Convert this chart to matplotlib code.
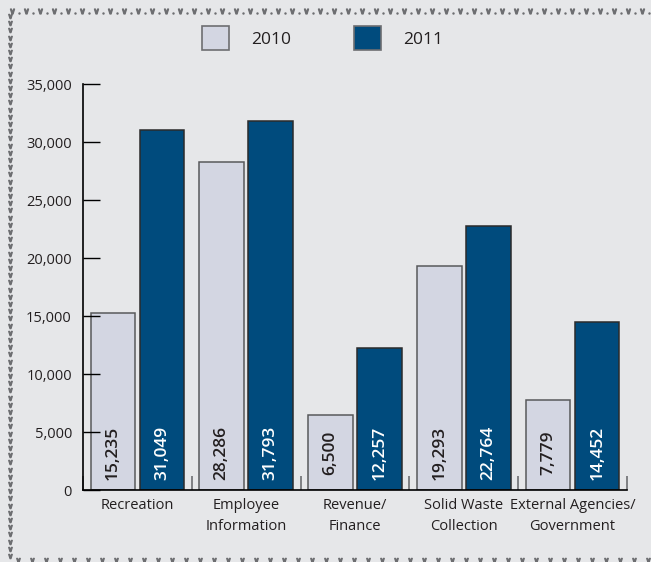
import numpy as np
import matplotlib.pyplot as plt
from matplotlib.lines import Line2D
from matplotlib.patches import Patch
from matplotlib.ticker import FuncFormatter, MultipleLocator

plt.rcParams['font.family'] = ['Open Sans', 'DejaVu Sans']

categories = ["Recreation", "Employee\nInformation", "Revenue/\nFinance",
              "Solid Waste\nCollection", "External Agencies/\nGovernment"]
values_2010 = [15235, 28286, 6500, 19293, 7779]
values_2011 = [31049, 31793, 12257, 22764, 14452]

bg = '#e6e7e9'
c2010 = '#d3d6e2'
c2011 = '#004b7d'
txt = '#231f20'

fig = plt.figure(figsize=(6.51, 5.62), dpi=100, facecolor=bg)
ax = fig.add_axes([83 / 651, 1 - 490 / 562, 544 / 651, 406 / 562])
ax.set_facecolor(bg)

x = np.arange(len(categories))
w = 0.41
off = 0.226
ax.bar(x - off, values_2010, w, color=c2010, edgecolor='#58595b', linewidth=1.1)
ax.bar(x + off, values_2011, w, color=c2011, edgecolor='#2b2b2b', linewidth=1.1)

# value labels written vertically near the foot of each bar
for xi, v in zip(x - off, values_2010):
    ax.text(xi, 3200, f"{v:,}", rotation=90, ha='center', va='center',
            fontsize=12.5, fontweight='semibold', color=txt)
for xi, v in zip(x + off, values_2011):
    ax.text(xi, 3200, f"{v:,}", rotation=90, ha='center', va='center',
            fontsize=12.5, fontweight='semibold', color='white')

ax.set_xlim(-0.5, len(categories) - 0.5)
ax.set_ylim(0, 35000)
ax.yaxis.set_major_locator(MultipleLocator(5000))
ax.yaxis.set_major_formatter(FuncFormatter(lambda v, p: f"{int(v):,}"))
ax.set_xticks(x)
ax.set_xticklabels(categories, fontsize=10.5, color=txt, linespacing=1.5)
ax.set_xticks(np.arange(len(categories) + 1) - 0.5, minor=True)
ax.tick_params(axis='x', which='major', length=0, pad=6)
ax.tick_params(axis='x', which='minor', direction='in', length=10, width=1.2, color='#6d6e71')
ax.tick_params(axis='y', direction='in', length=12, width=1, color='black',
               labelsize=10.5, labelcolor=txt, pad=8)
for s in ['top', 'right']:
    ax.spines[s].set_visible(False)
for s in ['left', 'bottom']:
    ax.spines[s].set_linewidth(1.2)
    ax.spines[s].set_color('black')

handles = [Patch(facecolor=c2010, edgecolor='#6d6e71', linewidth=1.2, label='2010'),
           Patch(facecolor=c2011, edgecolor='#6d6e71', linewidth=1.2, label='2011')]
leg = fig.legend(handles=handles, loc='center left', bbox_to_anchor=(186 / 651, 1 - 38 / 562),
                 ncol=2, frameon=False, fontsize=12.5, handlelength=1.6, handleheight=1.8,
                 handletextpad=1.25, columnspacing=3.6)
for t in leg.get_texts():
    t.set_color(txt)

# chevron border along top, left and bottom edges
bc = '#6d6e71'
top_x = np.arange(12, 651, 14) / 651
fig.add_artist(Line2D(top_x, np.full(top_x.size, 1 - 11 / 562), transform=fig.transFigure,
                      linestyle='none', marker=r'$\vee$', markersize=3.5, color=bc))
dot_x = top_x + 7 / 651
fig.add_artist(Line2D(dot_x, np.full(dot_x.size, 1 - 12.5 / 562), transform=fig.transFigure,
                      linestyle='none', marker='.', markersize=1.5, color=bc))
left_y = 1 - np.arange(16, 560, 7.2) / 562
fig.add_artist(Line2D(np.full(left_y.size, 10 / 651), left_y, transform=fig.transFigure,
                      linestyle='none', marker=r'$\vee$', markersize=3, color=bc))
bot_x = np.arange(18, 651, 14) / 651
fig.add_artist(Line2D(bot_x, np.full(bot_x.size, 1 - 560 / 562), transform=fig.transFigure,
                      linestyle='none', marker=r'$\vee$', markersize=3, color=bc))

fig.savefig('out.png', dpi=100, facecolor=bg)
